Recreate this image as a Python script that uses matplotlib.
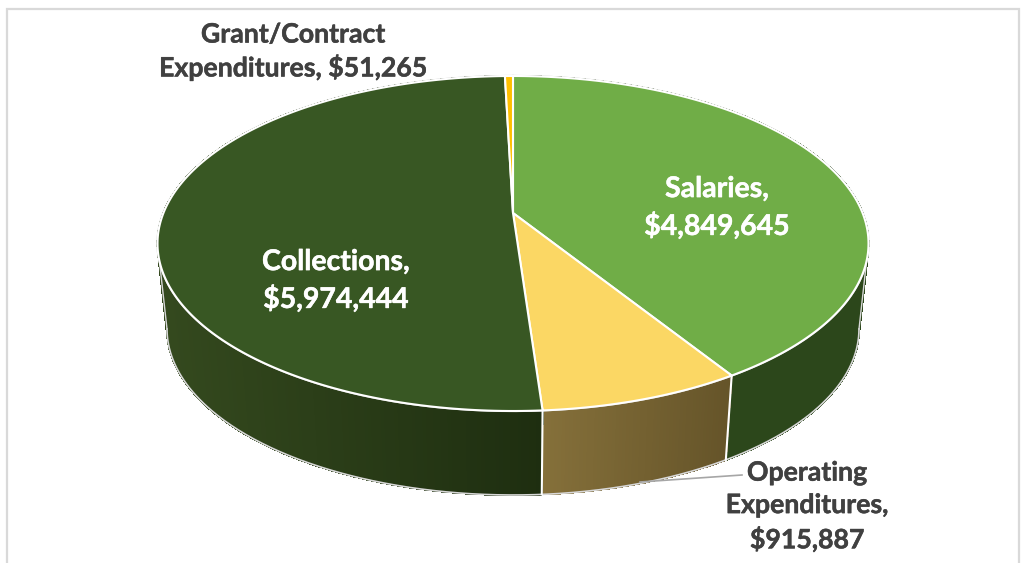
import numpy as np
from matplotlib import pyplot as plt
from matplotlib import patheffects as pe
from matplotlib.colors import to_rgb
from matplotlib.patches import Rectangle

# clockwise from 12 o'clock
categories = ['Salaries', 'Operating\nExpenditures', 'Collections', 'Grant/Contract\nExpenditures']
values = [4849645, 915887, 5974444, 51265]
top_colors = ['#70AD47', '#FBD764', '#385723', '#FFC000']
# side wall colour, at its right end and at its left end
wall_right = ['#2C471B', '#655429', '#1E2E10', '#66500A']
wall_left = ['#2C471B', '#85703A', '#34491E', '#66500A']

# pixel geometry of the two ellipses
cx, cy, rx, ry = 513, 243.5, 355.5, 167.5
cx2, cy2, rx2, ry2 = 513, 329, 346, 166
k = -0.182  # perspective, moves the pie centre up


def project(t, r=1.0):
    # t in degrees clockwise from the top, r in 0..1
    x = r*np.sin(np.radians(t))
    y = -r*np.cos(np.radians(t))
    w = 1 + k*y
    return x*np.sqrt(1 - k*k)/w, (y + k)/w


def top_xy(t, r=1.0):
    X, Y = project(t, r)
    return cx + rx*X, cy + ry*Y


def low_xy(t):
    X, Y = project(t)
    return cx2 + rx2*X, cy2 + ry2*Y


def label(x, y, s, color, size, spacing):
    ax.text(x, y, s, color=color, fontsize=size, family='Lato', weight='bold',
            ha='center', va='center', linespacing=spacing, parse_math=False, zorder=6,
            path_effects=[pe.withStroke(linewidth=0.35, foreground=color)])


fig = plt.figure(figsize=(10.21, 5.63), dpi=100)
ax = fig.add_axes([0, 0, 1, 1])
ax.set_xlim(0, 1021)
ax.set_ylim(563, 0)
ax.axis('off')

ax.add_patch(Rectangle((6.5, 8.5), 1012.5, 600, fc='white', ec='#D9D9D9', lw=1.6))

edges = np.cumsum([0] + values)/sum(values)*360

# side walls, thin strips so the shading can run along them
for i in range(len(values)):
    ts = np.arange(edges[i], edges[i+1] + 0.5, 0.5)
    ts[-1] = edges[i+1]
    xa, xb = low_xy(edges[i+1])[0], low_xy(edges[i])[0]
    if i == 2:
        xa = low_xy(270)[0]
    c_l = np.array(to_rgb(wall_left[i]))
    c_r = np.array(to_rgb(wall_right[i]))
    for a, b in zip(ts[:-1], ts[1:]):
        xs_t, ys_t = top_xy(np.array([a, b]))
        xs_l, ys_l = low_xy(np.array([b, a]))
        f = np.clip((xs_l.mean() - xa)/(xb - xa + 1e-9), 0, 1)
        col = c_l + (c_r - c_l)*f
        ax.fill(np.r_[xs_t, xs_l], np.r_[ys_t, ys_l], color=col, lw=0.8, antialiased=False, zorder=2)

# outline around the whole body, the sides meet the rims where x is extreme
side = np.degrees(np.arccos(k))
tt = np.linspace(side, 360 - side, 361)
ax.plot(*low_xy(tt), color='#D8D8D8', lw=1.2, zorder=3)
tt = np.linspace(0, 360, 721)
ax.plot(*top_xy(tt), color='#C8C8C8', lw=1.6, zorder=3)
for t in [side, 360 - side]:
    xt, yt = top_xy(t)
    xl, yl = low_xy(t)
    ax.plot([xt, xl], [yt, yl], color='#D8D8D8', lw=1.0, zorder=3)

# white seams on the front of the wall
for e in edges[1:3]:
    xt, yt = top_xy(e)
    xl, yl = low_xy(e)
    ax.plot([xt, xl], [yt, yl], color='white', lw=1.5, zorder=3)

# top face
for i in range(len(values)):
    ts = np.linspace(edges[i], edges[i+1], 200)
    xs, ys = top_xy(ts)
    ax.fill(np.r_[top_xy(0, 0)[0], xs], np.r_[top_xy(0, 0)[1], ys], fc=top_colors[i],
            ec='white', lw=1.5, joinstyle='round', zorder=4)

# leader line of the operating label
ax.plot([640, 742], [482, 475], color='#A6A6A6', lw=1.2, zorder=5)

label(717, 208, 'Salaries,\n$4,849,645', 'white', 20.5, 1.42)
label(336, 281, 'Collections,\n$5,974,444', 'white', 20.5, 1.42)
label(293, 51.5, 'Grant/Contract\nExpenditures, $51,265', '#404040', 19.2, 1.36)
label(807, 506.5, 'Operating\nExpenditures,\n$915,887', '#404040', 19.2, 1.42)

plt.savefig('out.png', dpi=100)
